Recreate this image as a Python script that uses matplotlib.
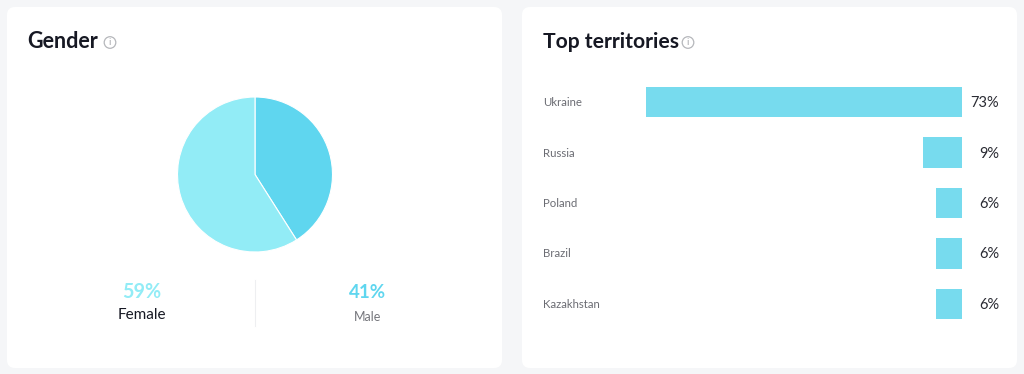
import matplotlib
matplotlib.use('Agg')
import matplotlib.pyplot as plt
from matplotlib.patches import FancyBboxPatch, Circle

plt.rcParams['font.family'] = ['Lato', 'DejaVu Sans']

genders = ['Female', 'Male']
gender_values = [59, 41]
gender_colors = ['#92ecf6', '#5fd6ef']

territories = ['Ukraine', 'Russia', 'Poland', 'Brazil', 'Kazakhstan']
territory_values = [73, 9, 6, 6, 6]
bar_color = '#77dbee'

W, H = 1024, 374
fig = plt.figure(figsize=(W / 100, H / 100), dpi=100, facecolor='#f5f6f8')

# background layer in pixel coords, y going down
bg = fig.add_axes([0, 0, 1, 1])
bg.set_xlim(0, W)
bg.set_ylim(H, 0)
bg.axis('off')

for x0 in [7, 522]:
    card = FancyBboxPatch((x0 + 8, 15), 479, 345, boxstyle='round,pad=8,rounding_size=8',
                          fc='white', ec='none')
    bg.add_patch(card)


def info_icon(x, y):
    bg.add_patch(Circle((x, y), 5.8, fc='none', ec='#b5b7bb', lw=0.9))
    bg.text(x, y + 0.3, 'i', fontsize=7, color='#a5a7ab', ha='center', va='center')


bg.text(27.5, 41.5, 'Gender', fontsize=15.5, fontweight='bold', color='#161823', va='center')
info_icon(110, 42.5)
bg.text(543, 41.5, 'Top territories', fontsize=15.2, fontweight='bold', color='#161823', va='center')
info_icon(688, 42.5)

# pie
pie_ax = fig.add_axes([(255 - 80) / W, 1 - (174.5 + 80) / H, 160 / W, 160 / H])
pie_ax.pie(gender_values[::-1], colors=gender_colors[::-1], startangle=90, counterclock=False,
           radius=77.5 / 80, wedgeprops={'edgecolor': 'white', 'linewidth': 0.8})
pie_ax.set_xlim(-1, 1)
pie_ax.set_ylim(-1, 1)

# gender captions
bg.text(141.5, 292, f'{gender_values[0]}%', fontsize=14.2, fontweight='bold', color=gender_colors[0],
        ha='center', va='center')
bg.text(141.5, 315, genders[0], fontsize=11, color='#161823', ha='center', va='center')
bg.text(368, 292, f'{gender_values[1]}%', fontsize=13.5, fontweight='bold', color=gender_colors[1],
        ha='center', va='center')
bg.text(367.5, 317, genders[1], fontsize=9, color='#75767c', ha='center', va='center')
bg.plot([254.5, 254.5], [280, 326], color='#eeeff1', lw=0.8)

# bars, axis spans the pixel range x 646-962, y 77-329
bar_ax = fig.add_axes([646 / W, 1 - 329 / H, 316 / W, 252 / H])
bar_ax.barh(range(len(territories)), territory_values, height=0.6, color=bar_color, left=[73 - v for v in territory_values])
bar_ax.set_xlim(0, 73)
bar_ax.set_ylim(4.5, -0.5)
bar_ax.axis('off')

for i, (name, v) in enumerate(zip(territories, territory_values)):
    bar_ax.annotate(name, (0, i), xycoords=('axes fraction', 'data'), xytext=(543.5 - 646, -0.5),
                    textcoords=('offset pixels'), fontsize=8.2, color='#6b6c73', va='center', ha='left')
    bar_ax.annotate(f'{v}%', (1, i), xycoords=('axes fraction', 'data'), xytext=(37, -1),
                    textcoords=('offset pixels'), fontsize=10.5, color='#2a2b33', va='center', ha='right')

fig.savefig('out.png', dpi=100, facecolor=fig.get_facecolor())
